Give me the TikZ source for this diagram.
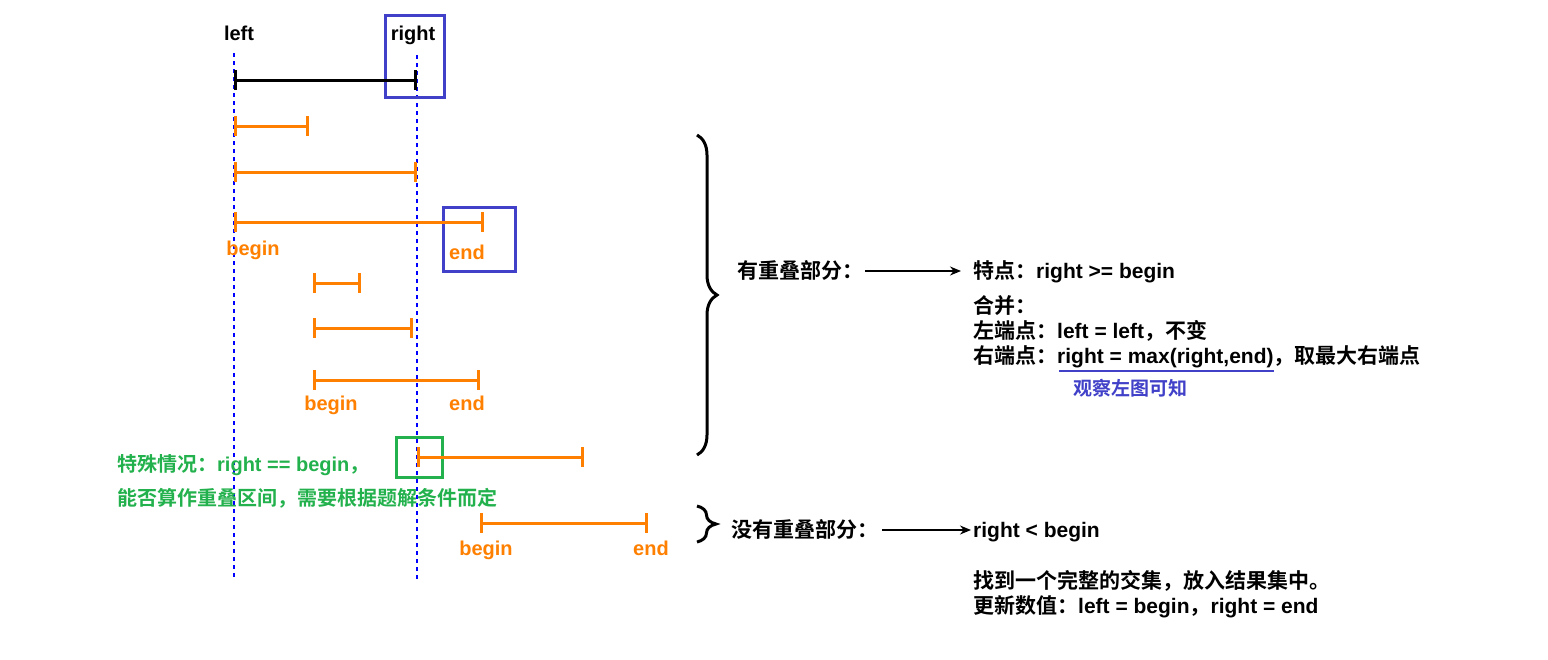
\documentclass[tikz,border=0pt]{standalone}
\usepackage{fontspec}
\setmainfont{Liberation Sans}
\newfontfamily\cjk{Noto Sans CJK SC}[UprightFont=* Bold,BoldFont=* Bold]
\usetikzlibrary{arrows.meta,decorations.pathreplacing}
\definecolor{myorange}{RGB}{255,128,0}
\definecolor{boxblue}{RGB}{64,64,200}
\definecolor{dashblue}{RGB}{0,0,255}
\definecolor{mygreen}{RGB}{34,177,76}
\newcommand{\zh}[1]{{\cjk #1}}
\tikzset{
  txt/.style={inner sep=0pt,font=\fontsize{20}{24}\selectfont\bfseries},
  rtxt/.style={inner sep=0pt,anchor=base west,font=\fontsize{21}{24}\selectfont\bfseries},
  ival/.style={line width=3pt,{Bar[width=20pt,line width=3pt]}-{Bar[width=20pt,line width=3pt]}},
  guide/.style={dashblue,line width=1.5pt,dash pattern=on 4pt off 4pt},
  hlbox/.style={draw,line width=3pt,inner sep=0pt},
  bracestyle/.style={line width=3pt,decorate,decoration={brace,amplitude=20pt}},
  arr/.style={line width=1.5pt,-{Stealth[length=11pt,width=9pt]}}
}
\begin{document}
\begin{tikzpicture}[x=1pt,y=-1pt]
\useasboundingbox (0,0) rectangle (1548,659);
% guide lines
\coordinate (gl1) at (234,53); \coordinate (gl2) at (234,578);
\coordinate (gr1) at (417,55); \coordinate (gr2) at (417,582);
\draw[guide] (gl1) -- (gl2);
\draw[guide] (gr1) -- (gr2);
% top labels
\node[txt,anchor=base] (lleft) at (239,40) {left};
\node[txt,anchor=base] (lright) at (413,40) {right};
% highlight boxes
\node[hlbox,boxblue,minimum width=59pt,minimum height=82pt] (hb1) at (414.5,56) {};
\node[hlbox,boxblue,minimum width=72pt,minimum height=64pt] (hb2) at (479,239) {};
\node[hlbox,mygreen,minimum width=46pt,minimum height=40pt] (hg) at (419,457) {};
% intervals
\coordinate (k1) at (234,80); \coordinate (k2) at (417,80);
\draw[ival,black] (k1) -- (k2);
\coordinate (a1) at (234,126); \coordinate (a2) at (309,126);
\draw[ival,myorange] (a1) -- (a2);
\coordinate (b1) at (234,172); \coordinate (b2) at (417,172);
\draw[ival,myorange] (b1) -- (b2);
\coordinate (c1) at (234,222); \coordinate (c2) at (484,222);
\draw[ival,myorange] (c1) -- (c2);
\coordinate (d1) at (313,283); \coordinate (d2) at (361,283);
\draw[ival,myorange] (d1) -- (d2);
\coordinate (e1) at (313,328); \coordinate (e2) at (413,328);
\draw[ival,myorange] (e1) -- (e2);
\coordinate (f1) at (313,380); \coordinate (f2) at (480,380);
\draw[ival,myorange] (f1) -- (f2);
\coordinate (g1) at (417,457); \coordinate (g2) at (584,457);
\draw[ival,myorange] (g1) -- (g2);
\coordinate (h1) at (480,523); \coordinate (h2) at (648,523);
\draw[ival,myorange] (h1) -- (h2);
% interval labels
\node[txt,anchor=base,myorange] (cb) at (253,255) {begin};
\node[txt,anchor=base,myorange] (ce) at (467,259) {end};
\node[txt,anchor=base,myorange] (fb) at (331,410) {begin};
\node[txt,anchor=base,myorange] (fe) at (467,410) {end};
\node[txt,anchor=base,myorange] (hb) at (486,555) {begin};
\node[txt,anchor=base,myorange] (he) at (651,555) {end};
% green note
\node[txt,anchor=base west,mygreen] (g1t) at (117,471) {\zh{特殊情况：}right == begin\zh{，}};
\node[txt,anchor=base west,mygreen] (g2t) at (117,505) {\zh{能否算作重叠区间，需要根据题解条件而定}};
% braces
\coordinate (bt) at (697,135); \coordinate (bb) at (697,455);
\draw[bracestyle] (bt) -- (bb);
\coordinate (st) at (697,506); \coordinate (sb) at (697,542);
\draw[bracestyle,decoration={brace,amplitude=19pt}] (st) -- (sb);
% overlap part
\node[rtxt] (ov) at (737,278) {\zh{有重叠部分：}};
\node[rtxt] (feat) at (973,278) {\zh{特点：}right >= begin};
\coordinate (oa1) at (865,271); \coordinate (oa2) at (961,271);
\draw[arr] (oa1) -- (oa2);
\node[rtxt] (m1) at (973,313) {\zh{合并：}};
\node[rtxt] (m2) at (973,338) {\zh{左端点：}left = left\zh{，不变}};
\node[rtxt] (m3) at (973,363) {\zh{右端点：}right = max(right,end)\zh{，取最大右端点}};
\coordinate (u1) at (1059,371); \coordinate (u2) at (1274,371);
\draw[boxblue,line width=2.5pt] (u1) -- (u2);
\node[txt,boxblue,anchor=base] (obs) at (1130,395) {\fontsize{19}{22}\selectfont\zh{观察左图可知}};
% no overlap part
\node[rtxt] (nov) at (731,537) {\zh{没有重叠部分：}};
\node[rtxt] (lt) at (973,537) {right < begin};
\coordinate (na1) at (882,530); \coordinate (na2) at (971,530);
\draw[arr] (na1) -- (na2);
\node[rtxt] (r1) at (973,588) {\zh{找到一个完整的交集，放入结果集中。}};
\node[rtxt] (r2) at (973,613) {\zh{更新数值：}left = begin\zh{，}right = end};
\end{tikzpicture}
\end{document}
